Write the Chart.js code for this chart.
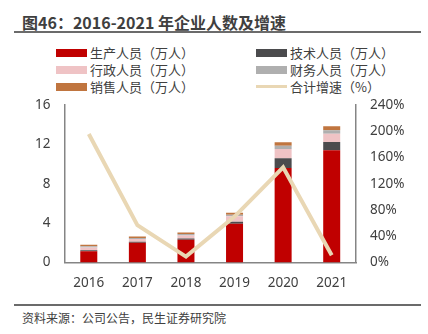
<!DOCTYPE html>
<html lang="zh">
<head>
<meta charset="UTF-8">
<title>企业人数及增速</title>
<script src="https://cdn.jsdelivr.net/npm/chart.js"></script>
<style>
    body {
        margin: 0;
        width: 428px;
        height: 334px;
        background: #fff;
        position: relative;
        font-family: "Noto Sans CJK SC", "Noto Sans", sans-serif;
        color: #404040;
        overflow: hidden;
    }

    .title {
        position: absolute;
        left: 22px;
        top: 10px;
        font-size: 16px;
        font-weight: bold;
        line-height: 24px;
        color: #3f3f3f;
    }

    .rule {
        position: absolute;
        left: 14px;
        width: 407px;
        height: 2px;
        background: #6b6b6b;
    }

    .legend-item {
        position: absolute;
        font-size: 13px;
        line-height: 17px;
        display: flex;
        align-items: center;
        white-space: nowrap;
    }

    .legend-item .swatch {
        width: 31px;
        height: 8px;
        margin-right: 3px;
    }

    .legend-item .swatch.line {
        height: 3px;
    }

    .chart-box {
        position: absolute;
        left: 0;
        top: 83px;
        width: 428px;
        height: 213px;
    }

    .source {
        position: absolute;
        left: 22px;
        top: 309px;
        font-size: 12px;
        line-height: 18px;
        color: #404040;
    }
</style>
</head>
<body>
    <div class="title">图46：2016-2021 年企业人数及增速</div>
    <div class="rule" style="top: 31px;"></div>
    <div id="legend"></div>
    <div class="chart-box">
        <canvas id="staffChart"></canvas>
    </div>
    <div class="rule" style="top: 304px;"></div>
    <div class="source">资料来源：公司公告，民生证券研究院</div>

    <script>
        const years = ['2016', '2017', '2018', '2019', '2020', '2021'];

        // staff by role, 万人
        const production = [1.15, 2.0, 2.3, 3.95, 9.6, 11.4];
        const technical = [0.1, 0.1, 0.15, 0.2, 1.0, 0.85];
        const admin = [0.28, 0.3, 0.3, 0.55, 0.95, 0.85];
        const finance = [0.12, 0.1, 0.15, 0.15, 0.33, 0.35];
        const sales = [0.15, 0.15, 0.15, 0.2, 0.35, 0.4];

        // total growth, %
        const growth = [196, 57, 9, 70, 145, 11];

        const leftTicks = [0, 4, 8, 12, 16];
        const rightTicks = [0, 40, 80, 120, 160, 200, 240];

        const axisColor = '#858585';
        const textColor = '#404040';
        const tickFont = { family: '"Noto Sans", "Noto Sans CJK SC", sans-serif', size: 13.5 };

        function barSet(label, data, color) {
            return {
                type: 'bar',
                label: label,
                data: data,
                backgroundColor: color,
                borderWidth: 0,
                stack: 'staff',
                yAxisID: 'y',
                order: 1,
                barPercentage: 0.35,
                categoryPercentage: 1
            };
        }

        const ctx = document.getElementById('staffChart').getContext('2d');
        const chart = new Chart(ctx, {
            data: {
                labels: years,
                datasets: [
                    barSet('生产人员（万人）', production, '#c00000'),
                    barSet('技术人员（万人）', technical, '#4b4b4d'),
                    barSet('行政人员（万人）', admin, '#efc3c5'),
                    barSet('财务人员（万人）', finance, '#afafaf'),
                    barSet('销售人员（万人）', sales, '#c0753f'),
                    {
                        type: 'line',
                        label: '合计增速（%）',
                        data: growth,
                        yAxisID: 'y1',
                        borderColor: '#e9d7b4',
                        borderWidth: 4,
                        pointRadius: 0,
                        tension: 0,
                        fill: false,
                        order: 0
                    }
                ]
            },
            options: {
                responsive: true,
                maintainAspectRatio: false,
                animation: false,
                layout: { padding: { top: 8, left: 0, right: 0, bottom: 0 } },
                plugins: {
                    legend: { display: false },
                    tooltip: { enabled: false }
                },
                scales: {
                    x: {
                        stacked: true,
                        grid: { display: false, drawTicks: false },
                        border: { color: axisColor, width: 1.5 },
                        ticks: { color: textColor, font: tickFont, padding: 13 },
                        afterFit: function (scale) { scale.height = 33.5; }
                    },
                    y: {
                        stacked: true,
                        position: 'left',
                        min: 0,
                        max: 16,
                        afterBuildTicks: function (scale) {
                            scale.ticks = leftTicks.map(v => ({ value: v }));
                        },
                        grid: { display: false, drawTicks: false },
                        border: { color: axisColor, width: 1.5 },
                        ticks: { color: textColor, font: tickFont, padding: 14 },
                        afterFit: function (scale) { scale.width = 64.5; }
                    },
                    y1: {
                        position: 'right',
                        min: 0,
                        max: 240,
                        afterBuildTicks: function (scale) {
                            scale.ticks = rightTicks.map(v => ({ value: v }));
                        },
                        grid: { display: false, drawTicks: false },
                        border: { color: axisColor, width: 1.5 },
                        ticks: {
                            color: textColor,
                            font: tickFont,
                            padding: 14,
                            callback: function (value) { return value + '%'; }
                        },
                        afterFit: function (scale) { scale.width = 72; }
                    }
                }
            }
        });

        // two-column legend built from the datasets
        const legendSpots = [
            [56, 44], [256, 44],
            [56, 61], [256, 61],
            [56, 78], [256, 78]
        ];
        const legendEl = document.getElementById('legend');
        chart.data.datasets.forEach(function (ds, i) {
            const item = document.createElement('div');
            item.className = 'legend-item';
            item.style.left = legendSpots[i][0] + 'px';
            item.style.top = legendSpots[i][1] + 'px';
            const sw = document.createElement('span');
            const isLine = ds.type === 'line';
            sw.className = isLine ? 'swatch line' : 'swatch';
            sw.style.background = isLine ? ds.borderColor : ds.backgroundColor;
            const txt = document.createElement('span');
            txt.textContent = ds.label;
            item.appendChild(sw);
            item.appendChild(txt);
            legendEl.appendChild(item);
        });
    </script>
</body>
</html>
